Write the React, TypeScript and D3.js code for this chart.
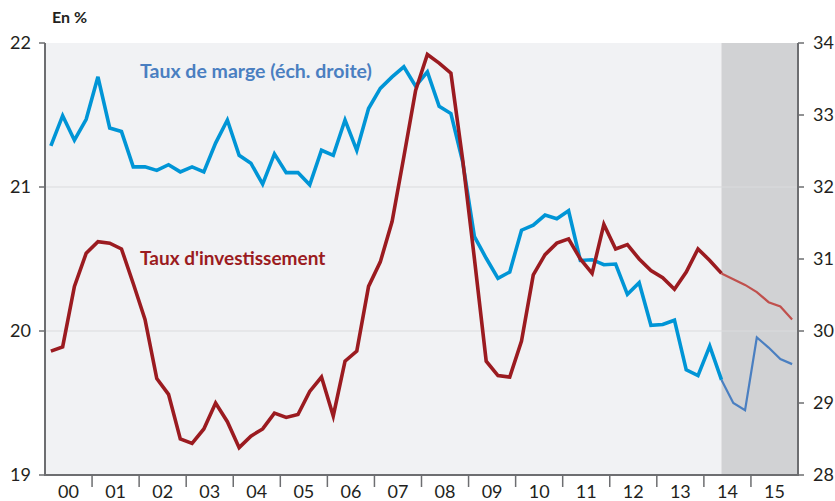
import React from "react";
import * as d3 from "d3";

const years = ["00","01","02","03","04","05","06","07","08","09","10","11","12","13","14","15"];
const leftTicks = [19, 20, 21, 22];
const rightTicks = [28, 29, 30, 31, 32, 33, 34];

// Taux d'investissement (left axis), quarterly 2000Q1..2015Q4
const invest = [
  19.86, 19.89, 20.31, 20.54, 20.62, 20.61, 20.57, 20.33, 20.08, 19.67, 19.56, 19.25, 19.22, 19.32, 19.50, 19.37,
  19.19, 19.27, 19.32, 19.43, 19.40, 19.42, 19.58, 19.68, 19.41, 19.79, 19.86, 20.31, 20.48, 20.76, 21.21, 21.67,
  21.92, 21.86, 21.79, 21.19, 20.50, 19.79, 19.69, 19.68, 19.93, 20.39, 20.53, 20.61, 20.64, 20.50, 20.40, 20.74,
  20.57, 20.60, 20.50, 20.42, 20.37, 20.29, 20.41, 20.57, 20.49, 20.40, 20.36, 20.32, 20.27, 20.20, 20.17, 20.08,
];
// Taux de marge (right axis)
const marge = [
  32.57, 32.99, 32.65, 32.94, 33.53, 32.82, 32.77, 32.28, 32.28, 32.23, 32.31, 32.21, 32.28, 32.21, 32.61, 32.93,
  32.44, 32.33, 32.04, 32.46, 32.20, 32.20, 32.03, 32.51, 32.44, 32.93, 32.51, 33.09, 33.37, 33.53, 33.67, 33.40,
  33.60, 33.12, 33.02, 32.35, 31.31, 31.01, 30.73, 30.82, 31.40, 31.47, 31.61, 31.56, 31.67, 30.98, 30.99, 30.92,
  30.93, 30.51, 30.67, 30.08, 30.09, 30.15, 29.46, 29.38, 29.79, 29.32, 29.00, 28.90, 29.91, 29.77, 29.61, 29.54,
];
const forecastStart = 57; // index of first forecast point (2014Q2)

export default function App() {
  const W = 835, H = 501;
  const L = 45, R = 798, T = 43, B = 475;
  const x = d3.scaleLinear().domain([2000, 2016]).range([L, R]);
  const yL = d3.scaleLinear().domain([19, 22]).range([B, T]);
  const yR = d3.scaleLinear().domain([28, 34]).range([B, T]);
  const tq = (i: number) => 2000 + (i + 0.5) / 4;

  const idx = d3.range(invest.length);
  const lineLi = d3.line<number>().x((i) => x(tq(i))).y((i) => yL(invest[i]));
  const lineRi = d3.line<number>().x((i) => x(tq(i))).y((i) => yR(marge[i]));
  const hist = idx.filter((i) => i <= forecastStart);
  const fut = idx.filter((i) => i >= forecastStart);
  const shadeX = x(tq(forecastStart));
  const axisCol = "#6d6e71";
  const font = "Lato, 'Open Sans', sans-serif";

  return (
    <svg width={W} height={H} style={{ position: "absolute", left: 0, top: 0, fontFamily: font }}>
      <rect x={L} y={T} width={R - L} height={B - T} fill="#f1f2f4" />
      <rect x={shadeX} y={T} width={R - shadeX} height={B - T} fill="#d1d2d4" />
      {[20, 21].map((v) => (
        <line key={v} x1={L} x2={R} y1={yL(v)} y2={yL(v)} stroke="#dadbdd" strokeWidth={1} />
      ))}
      {/* series */}
      <path d={lineRi(hist) || ""} fill="none" stroke="#0095d6" strokeWidth={3.6} strokeLinejoin="miter" />
      <path d={lineRi(fut) || ""} fill="none" stroke="#4a7fc1" strokeWidth={2.2} />
      <path d={lineLi(hist) || ""} fill="none" stroke="#9b1b20" strokeWidth={3.6} strokeLinejoin="miter" />
      <path d={lineLi(fut) || ""} fill="none" stroke="#c0504d" strokeWidth={2.2} />
      {/* axes */}
      <line x1={L} x2={L} y1={T} y2={B} stroke={axisCol} strokeWidth={2} />
      <line x1={R} x2={R} y1={T} y2={B + 1} stroke={axisCol} strokeWidth={2} />
      <line x1={L - 1} x2={R + 1} y1={B} y2={B} stroke={axisCol} strokeWidth={2} />
      {leftTicks.map((v) => (
        <g key={"l" + v}>
          <line x1={L - 6} x2={L} y1={yL(v)} y2={yL(v)} stroke={axisCol} strokeWidth={1.5} />
          <text x={31} y={yL(v)} dy="0.35em" textAnchor="end" fontSize={18} fill="#231f20">{v}</text>
        </g>
      ))}
      {rightTicks.map((v) => (
        <g key={"r" + v}>
          <line x1={R} x2={R + 6} y1={yR(v)} y2={yR(v)} stroke={axisCol} strokeWidth={1.5} />
          <text x={813} y={yR(v)} dy="0.35em" textAnchor="start" fontSize={18} fill="#231f20">{v}</text>
        </g>
      ))}
      {years.map((yr, k) => (
        <g key={yr}>
          {k > 0 && <line x1={x(2000 + k)} x2={x(2000 + k)} y1={B} y2={B + 12} stroke={axisCol} strokeWidth={1.5} />}
          <text x={x(2000 + k + 0.5)} y={498} textAnchor="middle" fontSize={18} fill="#231f20">{yr}</text>
        </g>
      ))}
      <text x={52} y={23} fontSize={16} fontWeight={700} fill="#231f20">En %</text>
      <text x={140} y={78} fontSize={19.5} fontWeight={700} fill="#4a7fc1">Taux de marge (éch. droite)</text>
      <text x={140} y={265} fontSize={19} fontWeight={700} fill="#9b1b20">Taux d'investissement</text>
    </svg>
  );
}
